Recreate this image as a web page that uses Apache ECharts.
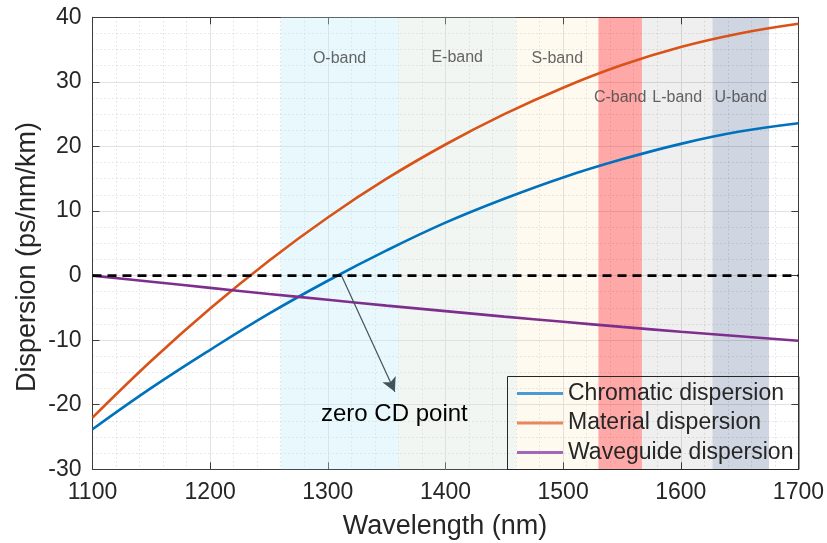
<!DOCTYPE html>
<html>
<head>
<meta charset="utf-8">
<script src="https://cdn.jsdelivr.net/npm/echarts@6/dist/echarts.min.js"></script>
<style>
html,body{margin:0;padding:0;background:#fff;}
#chart{width:827px;height:543px;}
</style>
</head>
<body>
<div id="chart"></div>
<script>
// ---- data ----
const wavelength = [1100, 1150, 1200, 1250, 1300, 1350, 1400, 1450, 1500, 1550, 1600, 1650, 1700];
const chromatic  = [-23.8, -17.4, -11.5, -5.9, -0.8, 3.9, 8.2, 11.9, 15.2, 18.0, 20.4, 22.3, 23.6];
const material   = [-22.0, -13.2, -5.1, 2.3, 9.0, 15.0, 20.3, 25.0, 29.1, 32.6, 35.4, 37.5, 39.0];
const waveguide  = [0, -0.95, -1.9, -2.85, -3.75, -4.65, -5.5, -6.35, -7.15, -7.95, -8.7, -9.4, -10.1];

const bandNames = ['O-band', 'E-band', 'S-band', 'C-band', 'L-band', 'U-band'];
const bandStart = [1260, 1360, 1460, 1530, 1567, 1627];
const bandEnd   = [1360, 1460, 1530, 1567, 1627, 1675];
const bandLabelLevel = [33.6, 33.7, 33.6, 27.5, 27.5, 27.5];

const zeroCDPoint = [1311.6, 0];
const arrowEnd = [1357, -18];

const xTicks = { min: 1100, max: 1700, interval: 100 };
const yTicks = { min: -30, max: 40, interval: 10 };

const seriesNames = ['Chromatic dispersion', 'Material dispersion', 'Waveguide dispersion'];

// ---- styles ----
const lineColors = ['#0072BD', '#D95319', '#7E2F8E'];
const legendColors = ['#4a9bd5', '#e8875a', '#a466b6'];
const bandColors = [
  'rgba(190,235,250,0.35)',
  'rgba(208,225,215,0.30)',
  'rgba(245,205,105,0.10)',
  'rgba(255,0,0,0.34)',
  'rgba(0,0,0,0.063)',
  'rgba(15,45,105,0.20)'
];
const FONT = '"Liberation Sans", Arial, Helvetica, sans-serif';
const TXT = '#262626';

function pairs(ys) { return wavelength.map((x, i) => [x, ys[i]]); }

const chart = echarts.init(document.getElementById('chart'), null, { renderer: 'canvas' });

function axisCommon() {
  return {
    axisLine: { show: true, onZero: false, lineStyle: { color: '#3c3c3c', width: 1 } },
    axisTick: { show: true, inside: true, length: 7, lineStyle: { color: '#3c3c3c' } }
  };
}

const option = {
  animation: false,
  backgroundColor: '#ffffff',
  grid: { left: 92.5, right: 28, top: 17.3, bottom: 73.7, containLabel: false },
  xAxis: [
    Object.assign({
      type: 'value', min: xTicks.min, max: xTicks.max, interval: xTicks.interval,
      position: 'bottom',
      axisLabel: { fontSize: 23, color: TXT, fontFamily: FONT, margin: 12, formatter: v => String(v) },
      splitLine: { show: true, lineStyle: { color: '#e2e2e2', width: 1 } },
      minorTick: { show: false, splitNumber: 5 },
      minorSplitLine: { show: true, lineStyle: { color: '#d2d2d2', width: 1, type: [1, 3] } }
    }, axisCommon()),
    Object.assign({
      type: 'value', min: xTicks.min, max: xTicks.max, interval: xTicks.interval,
      position: 'top',
      axisLabel: { show: false },
      splitLine: { show: false }
    }, axisCommon())
  ],
  yAxis: [
    Object.assign({
      type: 'value', min: yTicks.min, max: yTicks.max, interval: yTicks.interval,
      position: 'left',
      axisLabel: { fontSize: 23, color: TXT, fontFamily: FONT, margin: 11, formatter: v => String(v) },
      splitLine: { show: true, lineStyle: { color: '#e2e2e2', width: 1 } },
      minorTick: { show: false, splitNumber: 4 },
      minorSplitLine: { show: true, lineStyle: { color: '#d2d2d2', width: 1, type: [1, 3] } }
    }, axisCommon()),
    Object.assign({
      type: 'value', min: yTicks.min, max: yTicks.max, interval: yTicks.interval,
      position: 'right',
      axisLabel: { show: false },
      splitLine: { show: false }
    }, axisCommon())
  ],
  legend: {
    orient: 'vertical',
    left: 517, top: 381,
    padding: 0,
    itemGap: 4.5,
    itemWidth: 46, itemHeight: 3,
    icon: 'rect',
    textStyle: { fontSize: 23, color: TXT, fontFamily: FONT, lineHeight: 25 },
    data: seriesNames.map((n, i) => ({ name: n, itemStyle: { color: legendColors[i] } }))
  },
  series: [
    {
      name: 'bandLabels', type: 'scatter', symbolSize: 0, z: 2, silent: true,
      data: bandNames.map((n, i) => ({ name: n, value: [(bandStart[i] + bandEnd[i]) / 2, bandLabelLevel[i]] })),
      label: { show: true, position: 'inside', formatter: p => p.name, fontSize: 16, color: '#404040', fontFamily: FONT }
    },
    {
      name: seriesNames[0], type: 'line', data: pairs(chromatic), smooth: 0.4, symbol: 'none', z: 3,
      lineStyle: { color: lineColors[0], width: 2.6 }, itemStyle: { color: lineColors[0] }
    },
    {
      name: seriesNames[1], type: 'line', data: pairs(material), smooth: 0.4, symbol: 'none', z: 3,
      lineStyle: { color: lineColors[1], width: 2.6 }, itemStyle: { color: lineColors[1] }
    },
    {
      name: seriesNames[2], type: 'line', data: pairs(waveguide), smooth: 0.4, symbol: 'none', z: 3,
      lineStyle: { color: lineColors[2], width: 2.6 }, itemStyle: { color: lineColors[2] }
    },
    {
      name: 'zero', type: 'line', symbol: 'none', z: 3,
      data: [[xTicks.min, 0], [xTicks.max, 0]],
      lineStyle: { color: '#000', width: 2.6, type: [9, 6] }
    },
    {
      name: 'bands', type: 'line', data: [], z: 4, silent: true,
      markArea: {
        silent: true,
        label: { show: false },
        data: bandNames.map((n, i) => [
          { xAxis: bandStart[i], yAxis: yTicks.max, itemStyle: { color: bandColors[i] } },
          { xAxis: bandEnd[i], yAxis: yTicks.min }
        ])
      }
    },
    {
      name: 'arrow', type: 'line', data: [], z: 5, silent: true,
      markLine: {
        silent: true,
        symbol: ['none', 'arrow'],
        symbolSize: [11, 14],
        label: { show: false },
        lineStyle: { color: '#46525a', width: 1.2, type: 'solid' },
        data: [[{ coord: zeroCDPoint }, { coord: arrowEnd }]]
      }
    }
  ],
  graphic: [
    {
      type: 'rect', z: 100, silent: true,
      shape: { x: 507.5, y: 376.5, width: 291.5, height: 93 },
      style: { fill: 'none', stroke: '#262626', lineWidth: 1 }
    },
    {
      type: 'text', z: 100, silent: true,
      style: {
        x: 321, y: 414, text: '{a|zero C}{b|D point}',
        textVerticalAlign: 'middle', textAlign: 'left',
        rich: {
          a: { fontSize: 24, color: '#3a3a3a', fontFamily: FONT },
          b: { fontSize: 24, color: '#111', fontFamily: FONT }
        }
      }
    },
    {
      type: 'text', z: 100, silent: true,
      style: {
        x: 445, y: 527, text: 'Wavelength (nm)',
        textAlign: 'center', textVerticalAlign: 'middle',
        fontSize: 27, fill: TXT, fontFamily: FONT
      }
    },
    {
      type: 'text', z: 100, silent: true,
      x: 28, y: 257, rotation: Math.PI / 2,
      style: {
        x: 0, y: 0, text: 'Dispersion (ps/nm/km)',
        textAlign: 'center', textVerticalAlign: 'middle',
        fontSize: 27, fill: TXT, fontFamily: FONT
      }
    }
  ]
};

chart.setOption(option);
</script>
</body>
</html>
